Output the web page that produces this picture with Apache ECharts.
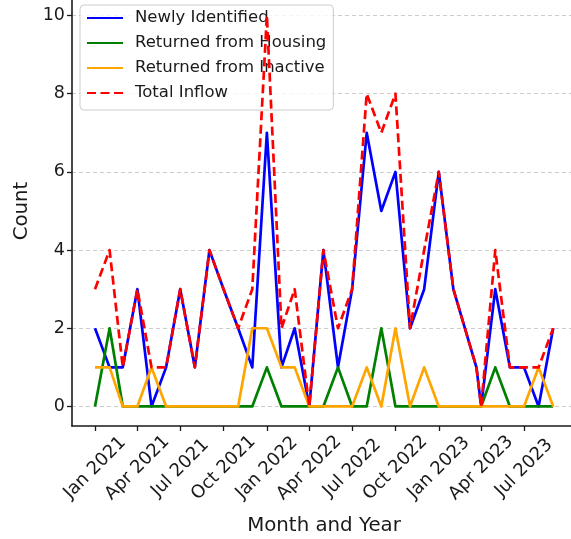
<!DOCTYPE html>
<html>
<head>
<meta charset="utf-8">
<script src="https://cdn.jsdelivr.net/npm/echarts@6/dist/echarts.min.js"></script>
<style>
html,body{margin:0;padding:0;background:#fff;}
#chart{width:571px;height:539px;}
</style>
</head>
<body>
<div id="chart"></div>
<script>
// ---- data ----
const months = [
  '2021-01-01','2021-02-01','2021-03-01','2021-04-01','2021-05-01','2021-06-01',
  '2021-07-01','2021-08-01','2021-09-01','2021-10-01','2021-11-01','2021-12-01',
  '2022-01-01','2022-02-01','2022-03-01','2022-04-01','2022-05-01','2022-06-01',
  '2022-07-01','2022-08-01','2022-09-01','2022-10-01','2022-11-01','2022-12-01',
  '2023-01-01','2023-02-01','2023-03-22','2023-04-01','2023-05-01','2023-06-01',
  '2023-07-01','2023-08-01','2023-09-01'
];
const newlyIdentified = [2,1,1,3,0,1,3,1,4,3,2,1, 7,1,2,0,4,1,3,7,5,6,2,3, 6,3,1,0,3,1,1,0,2];
const returnedHousing = [0,2,0,0,0,0,0,0,0,0,0,0, 1,0,0,0,0,1,0,0,2,0,0,0, 0,0,0,0,1,0,0,0,0];
const returnedInactive = [1,1,0,0,1,0,0,0,0,0,0,2, 2,1,1,0,0,0,0,1,0,2,0,1, 0,0,0,0,0,0,0,1,0];
const totalInflow = [3,4,1,3,1,1,3,1,4,3,2,3, 10,2,3,0,4,2,3,8,7,8,2,4, 6,3,1,0,4,1,1,1,2];

const xTickDates = ['2021-01-01','2021-04-01','2021-07-01','2021-10-01','2022-01-01','2022-04-01',
  '2022-07-01','2022-10-01','2023-01-01','2023-04-01','2023-07-01'];
const yTickValues = [0,2,4,6,8,10];
const monthNames = ['Jan','Feb','Mar','Apr','May','Jun','Jul','Aug','Sep','Oct','Nov','Dec'];

const seriesNames = ['Newly Identified','Returned from Housing','Returned from Inactive','Total Inflow'];
const seriesColors = ['#0000ff','#008000','#ffa500','#ff0000'];

// ---- build ----
const DAY = 86400000;
const t0 = Date.parse('2021-01-01');
const xs = months.map(m => Date.parse(m));
const pair = arr => arr.map((v,i) => [xs[i], v]);
const values = [newlyIdentified, returnedHousing, returnedInactive, totalInflow];
const xTicks = xTickDates.map(d => Date.parse(d));

const FONT = 'DejaVu Sans';
const TXT = '#1a1a1a';

const series = values.map((arr, i) => ({
  name: seriesNames[i],
  type: 'line',
  data: pair(arr),
  symbol: 'none',
  showSymbol: false,
  animation: false,
  z: 2 + i,
  lineStyle: {
    color: seriesColors[i],
    width: 2.7,
    type: i === 3 ? [9, 4.5] : 'solid',
    cap: 'butt',
    join: 'round'
  },
  itemStyle: { color: seriesColors[i] }
}));

const chart = echarts.init(document.getElementById('chart'), null, {renderer: 'canvas'});
chart.setOption({
  animation: false,
  backgroundColor: '#ffffff',
  textStyle: { fontFamily: FONT },
  grid: { left: 72, right: 0, top: -4, bottom: 113, containLabel: false, outerBoundsMode: 'none' },
  xAxis: {
    type: 'value',
    min: t0 - 48.84 * DAY,
    max: t0 + 1010.8 * DAY,
    scale: true,
    name: 'Month and Year',
    nameLocation: 'middle',
    nameGap: 90,
    nameTextStyle: { fontFamily: FONT, fontSize: 19.8, color: TXT, padding: [0,0,0,5] },
    axisLine: { show: true, onZero: false, lineStyle: { color: TXT, width: 1.6 } },
    axisTick: {
      show: true, length: 5, inside: false,
      lineStyle: { color: TXT, width: 1.3 },
      customValues: xTicks
    },
    axisLabel: {
      customValues: xTicks,
      rotate: 45,
      align: 'center',
      verticalAlign: 'middle',
      margin: 42,
      fontFamily: FONT,
      fontSize: 18,
      color: TXT,
      hideOverlap: false,
      showMinLabel: true,
      showMaxLabel: true,
      formatter: function (v) {
        const d = new Date(v);
        return monthNames[d.getUTCMonth()] + ' ' + d.getUTCFullYear();
      }
    },
    splitLine: { show: false }
  },
  yAxis: {
    type: 'value',
    min: -0.5,
    max: 10.5,
    name: 'Count',
    nameLocation: 'middle',
    nameGap: 36.5,
    nameRotate: 90,
    nameTextStyle: { fontFamily: FONT, fontSize: 19.8, color: TXT },
    axisLine: { show: true, onZero: false, lineStyle: { color: TXT, width: 1.6 } },
    axisTick: {
      show: true, length: 5, inside: false,
      lineStyle: { color: TXT, width: 1.3 },
      customValues: yTickValues
    },
    axisLabel: {
      customValues: yTickValues,
      margin: 7,
      fontFamily: FONT,
      fontSize: 17.5,
      color: TXT
    },
    splitLine: {
      show: true,
      lineStyle: { color: '#cccccc', width: 1, type: [4, 3] }
    }
  },
  legend: {
    show: true,
    data: seriesNames,
    orient: 'vertical',
    left: 80,
    top: 5,
    padding: [3, 7, 7, 6],
    itemWidth: 36,
    itemHeight: 14,
    itemGap: 5,
    itemStyle: { opacity: 0, borderWidth: 0 },
    backgroundColor: 'rgba(255,255,255,0.8)',
    borderColor: '#cccccc',
    borderWidth: 1,
    borderRadius: 4,
    textStyle: {
      fontFamily: FONT, fontSize: 16.5, color: TXT,
      lineHeight: 20, padding: [0, 0, 0, 7]
    },
    selectedMode: false
  },
  series: series
});
</script>
</body>
</html>
